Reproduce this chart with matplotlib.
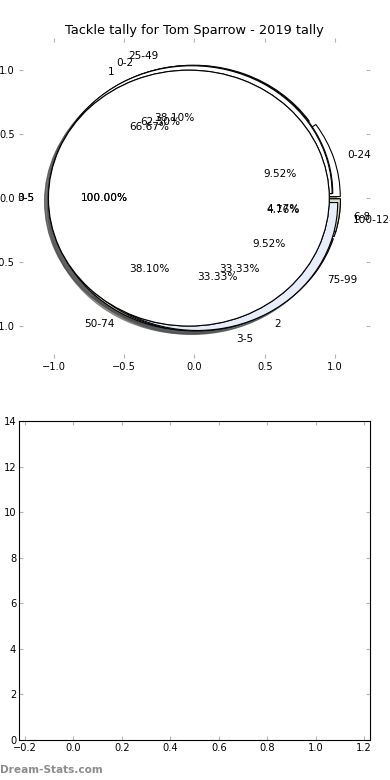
import matplotlib
matplotlib.use("Agg")
import matplotlib.pyplot as plt
import numpy as np

# tally pies (counts of games per band), drawn on top of one another
z_labels = ["0-24", "25-49", "50-74", "75-99", "100-124"]
z_counts = [2, 8, 8, 2, 1]
y_labels = ["0-2", "3-5", "6-8"]
y_counts = [15, 8, 1]
x_labels = ["1", "2"]
x_counts = [14, 7]
v1_labels = ["0-5"]
v1_counts = [21]
v2_labels = ["3-5"]
v2_counts = [24]

pie_colors = ["white", "#e8eef9", "#d6dcc6", "#5a5a5a", "#9a9a9a"]
title = "Tackle tally for Tom Sparrow - 2019 tally"

fig = plt.figure(figsize=(3.9, 7.8), dpi=100)
fig.patch.set_facecolor("white")

ax = fig.add_axes([0.0487, 0.541, 0.9, 0.41])
for labels, counts in [(z_labels, z_counts), (y_labels, y_counts),
                       (x_labels, x_counts), (v1_labels, v1_counts),
                       (v2_labels, v2_counts)]:
    ax.pie(counts, labels=labels, autopct="%.2f%%", shadow=True,
           explode=[0.04] * len(counts), colors=pie_colors[:len(counts)],
           wedgeprops=dict(edgecolor="black", linewidth=0.8),
           textprops=dict(fontsize=7.6))
ax.set_aspect("auto")
ax.set_xlim(-1.25, 1.25)
ax.set_ylim(-1.25, 1.25)
ax.set_xticks(np.arange(-1.0, 1.01, 0.5))
ax.set_yticks(np.arange(-1.0, 1.01, 0.5))
ax.tick_params(direction="in", length=3, color="0.7", labelsize=7.1,
               top=True, right=True, pad=3)
ax.set_title(title, fontsize=9.3, pad=3)

ax2 = fig.add_axes([0.0487, 0.0513, 0.9, 0.409])
ax2.set_xlim(-0.225, 1.225)
ax2.set_ylim(0, 14)
ax2.set_xticks(np.arange(-0.2, 1.21, 0.2))
ax2.set_yticks(np.arange(0, 15, 2))
ax2.tick_params(direction="in", length=3, color="0.7", labelsize=7.1,
                top=True, right=True, pad=2)
for s in ax2.spines.values():
    s.set_linewidth(0.8)

fig.text(0.0, 0.006, "Dream-Stats.com", fontsize=7.6, color="0.55",
         fontweight="bold", ha="left", va="bottom")

fig.savefig("out.png", dpi=100, facecolor="white")
